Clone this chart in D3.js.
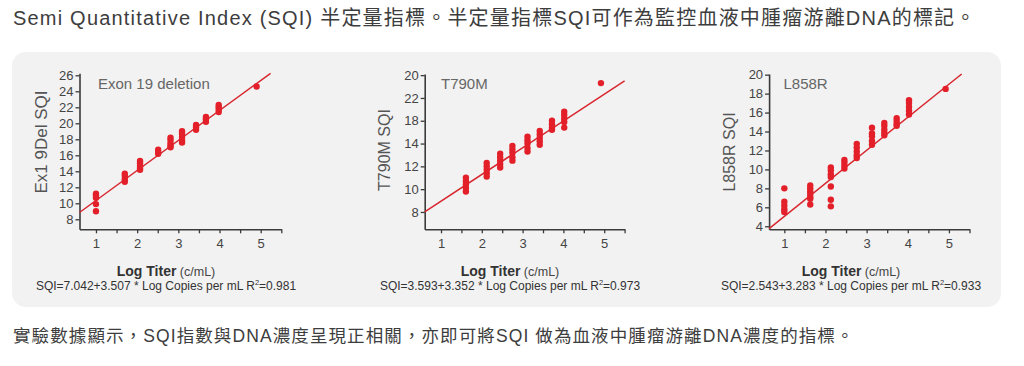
<!DOCTYPE html>
<html><head><meta charset="utf-8">
<script src="https://cdn.jsdelivr.net/npm/d3@7"></script>
<style>
body{margin:0;background:#fff;}
text{font-family:"Liberation Sans",Arial,"Noto Sans CJK TC",sans-serif;}
</style></head>
<body><svg id="c" width="1024" height="366"></svg>
<script>
// ---- text ----
const headingText = "Semi Quantitative Index (SQI) 半定量指標。半定量指標SQI可作為監控血液中腫瘤游離DNA的標記。";
const footerText = "實驗數據顯示，SQI指數與DNA濃度呈現正相關，亦即可將SQI 做為血液中腫瘤游離DNA濃度的指標。";
const chartTitles = ["Exon 19 deletion", "T790M", "L858R"];
const yAxisTitles = ["Ex1 9Del SQI", "T790M SQI", "L858R SQI"];
const eqMain = ["SQI=7.042+3.507 * Log Copies per mL R", "SQI=3.593+3.352 * Log Copies per mL R", "SQI=2.543+3.283 * Log Copies per mL R"];
const eqR2 = ["=0.981", "=0.973", "=0.933"];
const xTickValues = [1, 1.5, 2, 2.5, 3, 3.5, 4, 4.5, 5, 5.5];
const xTickLabels = {1:"1", 2:"2", 3:"3", 4:"4", 5:"5"};

// ---- Exon 19 deletion ----
const exonX = [1.0, 1.70, 2.07, 2.51, 2.81, 3.09, 3.43, 3.67, 3.98, 4.9];
const exonY = [[11.2, 11.0, 10.7, 9.9, 9.0],
  [13.7, 13.4, 13.0, 12.7],
  [15.3, 15.0, 14.7, 14.4, 14.2],
  [16.7, 16.4, 16.2],
  [18.2, 17.9, 17.5, 17.2, 17.0],
  [19.0, 18.7, 18.3, 17.9, 17.6],
  [19.8, 19.5, 19.2],
  [20.8, 20.5, 20.2],
  [22.3, 22.0, 21.7, 21.4],
  [24.6]];
const exonYTicks = [8, 10, 12, 14, 16, 18, 20, 22, 24, 26];
const exonYLabels = ["8", "10", "12", "14", "16", "18", "20", "22", "24", "26"];
const exonXDomain = [0.6, 5.5];
const exonYDomain = [6.75, 26.25];
const exonFitX = [0.6, 5.24];
const exonFitY = [8.85, 26.25];

// ---- T790M ----
const t790X = [1.61, 2.12, 2.45, 2.75, 3.12, 3.42, 3.72, 4.02, 4.92];
const t790Y = [[11.0, 10.7, 10.4, 10.1, 9.8],
  [12.3, 12.0, 11.7, 11.4, 11.1],
  [13.1, 12.8, 12.5, 12.2, 11.9],
  [13.8, 13.5, 13.2, 12.8, 12.5],
  [14.6, 14.3, 14.0, 13.6, 13.3],
  [15.1, 14.8, 14.5, 14.2, 13.9],
  [16.0, 15.7, 15.4, 15.2],
  [16.8, 16.5, 16.2, 15.9, 15.4],
  [19.3]];
const t790YTicks = [8, 10, 12, 14, 16, 18, 20];
const t790YLabels = ["8", "10", "12", "14", "18", "22", "20"];
const t790XDomain = [0.6, 5.5];
const t790YDomain = [6.48, 20.1];
const t790FitX = [0.6, 5.5];
const t790FitY = [8.0, 19.5];

// ---- L858R ----
const l858X = [1.0, 1.63, 2.13, 2.46, 2.76, 3.13, 3.43, 3.73, 4.03, 4.92];
const l858Y = [[8.0, 6.6, 6.2, 5.8, 5.5],
  [8.3, 8.0, 7.7, 7.4, 7.1, 6.9, 6.3],
  [10.2, 9.9, 9.5, 9.2, 8.2, 6.8, 6.1],
  [11.0, 10.7, 10.4, 10.1],
  [12.7, 12.3, 11.9, 11.5, 11.2],
  [14.4, 13.8, 13.5, 13.0, 12.6],
  [14.9, 14.6, 14.2, 13.9, 13.6],
  [15.4, 15.1, 14.8, 14.6],
  [17.3, 17.0, 16.6, 16.2, 15.8],
  [18.5]];
const l858YTicks = [4, 6, 8, 10, 12, 14, 16, 18, 20];
const l858YLabels = ["4", "6", "8", "10", "12", "14", "16", "18", "20"];
const l858XDomain = [0.63, 5.5];
const l858YDomain = [3.68, 20.07];
const l858FitX = [0.63, 5.31];
const l858FitY = [3.75, 20.07];

// ---- layout ----
const svg = d3.select("#c");
const RED = "#e3202a", LINE = "#d8262e", AX = "#3a3a3a", TXT = "#444";

svg.append("text").attr("x", 13).attr("y", 25)
  .attr("font-size", 20).attr("letter-spacing", 1.2).attr("fill", "#3d3d3d")
  .text(headingText);

svg.append("rect").attr("x", 12).attr("y", 52).attr("width", 989).attr("height", 255)
  .attr("rx", 14).attr("fill", "#f2f2f2");

svg.append("text").attr("x", 13).attr("y", 342)
  .attr("font-size", 17.5).attr("letter-spacing", 1.1).attr("fill", "#3d3d3d")
  .text(footerText);

const charts = [
  {xs: exonX, ys: exonY, yt: exonYTicks, yl: exonYLabels, xd: exonXDomain, yd: exonYDomain, fx: exonFitX, fy: exonFitY,
   px: [79.5, 281.3], py: [229.3, 73.3], titleX: 98, ytX: 41, ytY: 142, ytSize: 17, eqX: 166},
  {xs: t790X, ys: t790Y, yt: t790YTicks, yl: t790YLabels, xd: t790XDomain, yd: t790YDomain, fx: t790FitX, fy: t790FitY,
   px: [424.7, 624.6], py: [229.3, 74], titleX: 441, ytX: 384, ytY: 150, ytSize: 16, eqX: 510},
  {xs: l858X, ys: l858Y, yt: l858YTicks, yl: l858YLabels, xd: l858XDomain, yd: l858YDomain, fx: l858FitX, fy: l858FitY,
   px: [769.1, 969.5], py: [229.3, 74], titleX: 783.5, ytX: 729, ytY: 152, ytSize: 16, eqX: 851}
];

charts.forEach((c, i) => {
  const x = d3.scaleLinear().domain(c.xd).range(c.px);
  const y = d3.scaleLinear().domain(c.yd).range(c.py);
  const g = svg.append("g");

  const xa = g.append("g").attr("transform", `translate(0,${c.py[0]})`)
    .call(d3.axisBottom(x).tickValues(xTickValues).tickSize(4).tickPadding(5)
      .tickFormat(d => xTickLabels[d] || "").tickSizeOuter(0));
  const ya = g.append("g").attr("transform", `translate(${c.px[0]},0)`)
    .call(d3.axisLeft(y).tickValues(c.yt).tickSize(4).tickPadding(2)
      .tickFormat((d, k) => c.yl[k]).tickSizeOuter(0));
  [xa, ya].forEach(a => {
    a.select(".domain").attr("stroke", AX).attr("stroke-width", 1.6);
    a.selectAll(".tick line").attr("stroke", AX).attr("stroke-width", 1.3);
    a.selectAll(".tick text").attr("fill", TXT).attr("font-size", 13)
      .attr("font-family", "Liberation Sans, Arial, sans-serif");
  });

  // fit line
  const fit = c.fx.map((v, k) => [v, c.fy[k]]);
  g.append("path").datum(fit)
    .attr("d", d3.line().x(d => x(d[0])).y(d => y(d[1])))
    .attr("stroke", LINE).attr("stroke-width", 1.5).attr("fill", "none");

  // points
  const pts = [];
  c.xs.forEach((xv, k) => c.ys[k].forEach(yv => pts.push([xv, yv])));
  g.selectAll("circle").data(pts).join("circle")
    .attr("cx", d => x(d[0])).attr("cy", d => y(d[1])).attr("r", 3.2).attr("fill", RED);

  // titles
  g.append("text").attr("x", c.titleX).attr("y", 89).attr("font-size", 15).attr("fill", "#666")
    .text(chartTitles[i]);
  g.append("text").attr("transform", `translate(${c.ytX + 5.5},${c.ytY}) rotate(-90)`)
    .attr("text-anchor", "middle").attr("font-size", c.ytSize).attr("fill", "#555")
    .text(yAxisTitles[i]);

  const xt = g.append("text").attr("x", c.eqX).attr("y", 276).attr("text-anchor", "middle").attr("fill", "#333");
  xt.append("tspan").attr("font-size", 14).attr("font-weight", "bold").text("Log Titer");
  xt.append("tspan").attr("font-size", 12.5).attr("fill", "#444").text(" (c/mL)");

  const eq = g.append("text").attr("x", c.eqX).attr("y", 290).attr("text-anchor", "middle")
    .attr("font-size", 12).attr("fill", "#333");
  eq.append("tspan").text(eqMain[i]);
  eq.append("tspan").attr("font-size", 7.5).attr("dy", -5).text("2");
  eq.append("tspan").attr("dy", 5).text(eqR2[i]);
});
</script></body></html>
